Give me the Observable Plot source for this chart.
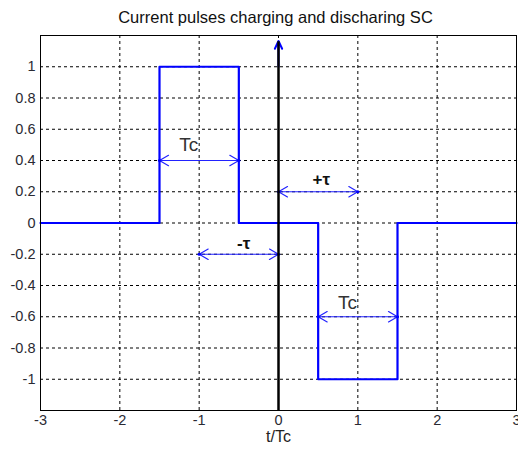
<!DOCTYPE html>
<html>
<head>
<meta charset="utf-8">
<script src="https://cdn.jsdelivr.net/npm/d3@7"></script>
<script src="https://cdn.jsdelivr.net/npm/@observablehq/plot@0.6"></script>
<style>
body { margin: 0; background: #fff; }
#title { width: 518px; height: 33px; box-sizing: border-box; padding-left: 33px; text-align: center;
  font: 16.5px "Liberation Sans", Arial, sans-serif; line-height: 34px; color: #111; }
#chart svg g[aria-label="x-axis tick label"] text, #chart svg g[aria-label="y-axis tick label"] text { font-size: 14.5px; }
</style>
</head>
<body>
<div id="title">Current pulses charging and discharing SC</div>
<div id="chart"></div>
<script>
// Pulse signal (step-after)
const pulseT = [-3, -1.5, -0.5, 0.5, 1.5, 3];
const pulseI = [0, 1, 0, -1, 0, 0];

// Annotation double arrows
const spanX1 = [-1.5, 0, -1, 0.5];
const spanX2 = [-0.5, 1, 0, 1.5];
const spanY = [0.4, 0.2, -0.2, -0.6];

// Annotation labels
const labelText = ["Tc", "+τ", "-τ", "Tc"];
const labelX = [-1.13, 0.54, -0.44, 0.87];
const labelY = [0.5, 0.28, -0.13, -0.51];
const labelBold = [false, true, true, false];

// Ticks
const xTicks = [-3, -2, -1, 0, 1, 2, 3];
const yTicks = [-1, -0.8, -0.6, -0.4, -0.2, 0, 0.2, 0.4, 0.6, 0.8, 1];
const xTitle = "t/Tc";

const pulse = pulseT.map((t, i) => ({t, v: pulseI[i]}));
const spans = spanX1.map((x1, i) => ({x1, x2: spanX2[i], y: spanY[i], xm: (x1 + spanX2[i]) / 2}));
const labels = labelText.map((s, i) => ({s, x: labelX[i], y: labelY[i], bold: labelBold[i]}));
const fmt = d => String(+d.toFixed(1));

const chart = Plot.plot({
  width: 518,
  height: 417,
  marginLeft: 40,
  marginRight: 2,
  marginTop: 2,
  marginBottom: 40,
  style: {fontFamily: "'Liberation Sans', Arial, sans-serif", fontSize: "14px", color: "#222", background: "#fff"},
  x: {domain: [-3, 3]},
  y: {domain: [-1.2, 1.2]},
  marks: [
    Plot.gridX(xTicks, {stroke: "#000", strokeOpacity: 1, strokeDasharray: "3,3", strokeWidth: 1}),
    Plot.gridY(yTicks, {stroke: "#000", strokeOpacity: 1, strokeDasharray: "3,3", strokeWidth: 1}),
    Plot.axisX(xTicks, {tickFormat: fmt, label: null, tickSize: 0, tickPadding: 4, fontSize: 14.5, fill: "#2a2a33"}),
    Plot.axisY(yTicks, {tickFormat: fmt, label: null, tickSize: 0, tickPadding: 5, fontSize: 14.5, fill: "#2a2a33"}),
    Plot.line(pulse, {x: "t", y: "v", curve: "step-after", stroke: "#0000ff", strokeWidth: 2.2}),
    // double-headed span arrows: two arrows from the middle outwards
    Plot.arrow(spans, {x1: "xm", x2: "x1", y1: "y", y2: "y", stroke: "#2222ff", strokeWidth: 1.2, headLength: 13, headAngle: 60}),
    Plot.arrow(spans, {x1: "xm", x2: "x2", y1: "y", y2: "y", stroke: "#2222ff", strokeWidth: 1.2, headLength: 13, headAngle: 60}),
    Plot.dot(spans, {x: "x1", y: "y", r: 1.6, fill: "#0000ff"}),
    Plot.dot(spans, {x: "x2", y: "y", r: 1.6, fill: "#0000ff"}),
    // vertical axis arrow
    Plot.arrow([{x: 0, y1: 1.0, y2: 1.165}], {x1: "x", x2: "x", y1: "y1", y2: "y2", stroke: "#0000ff", strokeWidth: 2, headLength: 15, headAngle: 50}),
    Plot.ruleX([0], {y1: -1.2, y2: 1.16, stroke: "#000", strokeWidth: 2.5}),
    Plot.text(labels.filter(d => !d.bold), {x: "x", y: "y", text: "s", fontSize: 19, fill: "#333"}),
    Plot.text(labels.filter(d => d.bold), {x: "x", y: "y", text: "s", fontSize: 17, fontWeight: "bold", fill: "#111"}),
    Plot.text([xTitle], {frameAnchor: "bottom", dy: 31, fontSize: 16, fill: "#222"}),
    Plot.frame({stroke: "#000", strokeWidth: 1})
  ]
});
document.getElementById("chart").appendChild(chart);
</script>
</body>
</html>
